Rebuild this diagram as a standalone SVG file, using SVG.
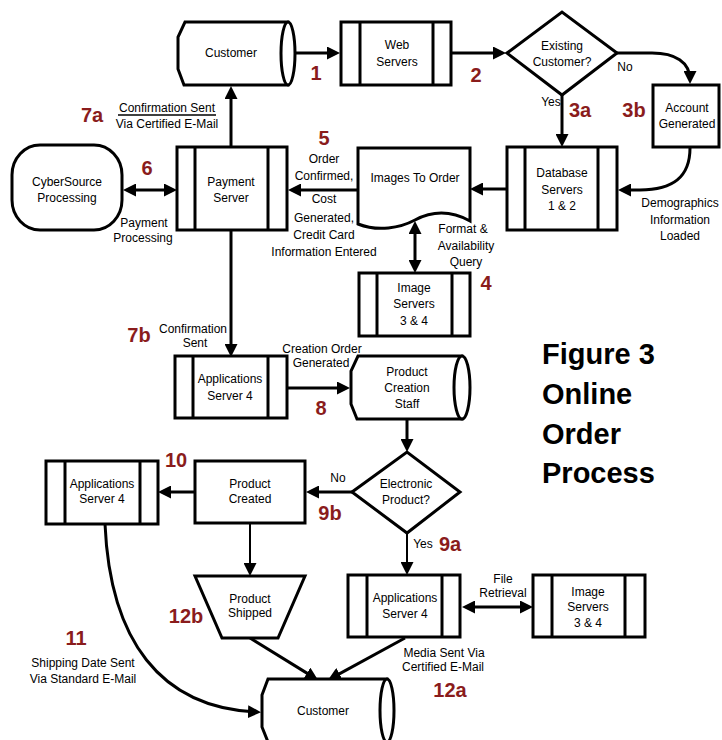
<svg xmlns="http://www.w3.org/2000/svg" width="722" height="740" viewBox="0 0 722 740">
<defs>
<style>
.box{fill:#fff;stroke:#000;stroke-width:3;stroke-linejoin:miter}
.bar{stroke:#000;stroke-width:3}
.t{font-family:"Liberation Sans",Arial,sans-serif;font-size:12px;fill:#000;text-anchor:middle}
.n{font-family:"Liberation Sans",Arial,sans-serif;font-size:20px;font-weight:bold;fill:#8a1c1c;text-anchor:middle}
.fig{font-family:"Liberation Sans",Arial,sans-serif;font-size:29px;font-weight:bold;fill:#000}
.c{fill:none;stroke:#000;stroke-width:3;marker-end:url(#ah)}
.thin{stroke-width:2}
.both{marker-start:url(#ah)}
</style>
<marker id="ah" viewBox="0 0 13 13" refX="9" refY="6.5" markerWidth="13" markerHeight="13" markerUnits="userSpaceOnUse" orient="auto-start-reverse"><path d="M0,0 L13,6.5 L0,13 Z" fill="#000"/></marker>
</defs>
<rect x="0" y="0" width="722" height="740" fill="#fff"/>

<g id="connectors">
<path class="c" d="M295,53 H336"/>
<path class="c" d="M451,53 H502"/>
<path class="c" d="M617,53 H652 C675,53 690,62 690,80"/>
<path class="c" d="M562,95 V143"/>
<path class="c" d="M690,148 C690,178 672,190 640,190 L622,190"/>
<path class="c" d="M507,189 H474"/>
<path class="c" d="M358,190 H292"/>
<path class="c both" d="M127,190 H173"/>
<path class="c" d="M231,147 V90"/>
<path class="c" d="M231,230 V353"/>
<path class="c both" d="M415,225 V269"/>
<path class="c" d="M287,388 H346"/>
<path class="c" d="M407,419 V448"/>
<path class="c" d="M352,492 H310"/>
<path class="c" d="M195,492 H162"/>
<path class="c thin" d="M250,523 V572"/>
<path class="c thin" d="M407,533 V571"/>
<path class="c both" d="M466,607 H529"/>
<path class="c" d="M250,638 L314.6,677.9"/>
<path class="c" d="M405,638 L331.5,678.1"/>
<path class="c" d="M105,524 C110,640 160,708 257,712"/>
</g>

<g id="customer-top">
<path class="box" d="M288,22 H185 L178,37 V69 L184,85 H288 Z"/>
<ellipse class="box" cx="288" cy="53.5" rx="7" ry="31.5"/>
<text class="t" x="231" y="57">Customer</text>
</g>

<g id="web-servers">
<rect class="box" x="341" y="22" width="110" height="63"/>
<line class="bar" x1="360" y1="22" x2="360" y2="85"/>
<line class="bar" x1="433" y1="22" x2="433" y2="85"/>
<text class="t" x="397" y="49">Web</text>
<text class="t" x="397" y="66">Servers</text>
</g>

<g id="existing-customer">
<polygon class="box" points="507,53 562,12 617,53 562,95"/>
<text class="t" x="562" y="50">Existing</text>
<text class="t" x="562" y="66">Customer?</text>
</g>

<g id="account-generated">
<rect class="box" x="653" y="85" width="66" height="62"/>
<text class="t" x="687" y="112">Account</text>
<text class="t" x="687" y="128">Generated</text>
</g>

<g id="database-servers">
<rect class="box" x="507" y="147" width="110" height="83"/>
<line class="bar" x1="525" y1="147" x2="525" y2="230"/>
<line class="bar" x1="598" y1="147" x2="598" y2="230"/>
<text class="t" x="562" y="177">Database</text>
<text class="t" x="562" y="194">Servers</text>
<text class="t" x="562" y="210">1 &amp; 2</text>
</g>

<g id="images-to-order">
<path class="box" d="M358,148 H470 V221 C450,210 432,211 415,220 C400,228 378,232 358,224 Z"/>
<text class="t" x="415" y="182">Images To Order</text>
</g>

<g id="image-servers-top">
<rect class="box" x="359" y="273" width="111" height="63"/>
<line class="bar" x1="377" y1="273" x2="377" y2="336"/>
<line class="bar" x1="452" y1="273" x2="452" y2="336"/>
<text class="t" x="414" y="292">Image</text>
<text class="t" x="414" y="308">Servers</text>
<text class="t" x="414" y="325">3 &amp; 4</text>
</g>

<g id="payment-server">
<rect class="box" x="177" y="147" width="110" height="83"/>
<line class="bar" x1="195" y1="147" x2="195" y2="230"/>
<line class="bar" x1="268" y1="147" x2="268" y2="230"/>
<text class="t" x="231" y="186">Payment</text>
<text class="t" x="231" y="202">Server</text>
</g>

<g id="cybersource">
<rect class="box" x="12" y="145" width="110" height="85" rx="28" ry="30"/>
<text class="t" x="67" y="186">CyberSource</text>
<text class="t" x="67" y="202">Processing</text>
</g>

<g id="applications-server-mid">
<rect class="box" x="175" y="356" width="112" height="62"/>
<line class="bar" x1="193" y1="356" x2="193" y2="418"/>
<line class="bar" x1="268" y1="356" x2="268" y2="418"/>
<text class="t" x="230" y="383">Applications</text>
<text class="t" x="230" y="400">Server 4</text>
</g>

<g id="product-creation-staff">
<path class="box" d="M462,356 H358 L351,371 V404 L357,419 H462 Z"/>
<ellipse class="box" cx="462" cy="387.5" rx="8" ry="31.5"/>
<text class="t" x="407" y="376">Product</text>
<text class="t" x="407" y="392">Creation</text>
<text class="t" x="407" y="408">Staff</text>
</g>

<g id="electronic-product">
<polygon class="box" points="352,492 407,452 460,492 407,533"/>
<text class="t" x="406" y="488">Electronic</text>
<text class="t" x="406" y="504">Product?</text>
</g>

<g id="product-created">
<rect class="box" x="195" y="461" width="110" height="62"/>
<text class="t" x="250" y="488">Product</text>
<text class="t" x="250" y="503">Created</text>
</g>

<g id="applications-server-left">
<rect class="box" x="46" y="461" width="112" height="63"/>
<line class="bar" x1="65" y1="461" x2="65" y2="524"/>
<line class="bar" x1="140" y1="461" x2="140" y2="524"/>
<text class="t" x="102" y="488">Applications</text>
<text class="t" x="102" y="503">Server 4</text>
</g>

<g id="product-shipped">
<polygon class="box" points="195,576 305,576 278,638 222,638"/>
<text class="t" x="250" y="603">Product</text>
<text class="t" x="250" y="617">Shipped</text>
</g>

<g id="applications-server-bottom">
<rect class="box" x="348" y="575" width="112" height="62"/>
<line class="bar" x1="367" y1="575" x2="367" y2="637"/>
<line class="bar" x1="442" y1="575" x2="442" y2="637"/>
<text class="t" x="405" y="602">Applications</text>
<text class="t" x="405" y="618">Server 4</text>
</g>

<g id="image-servers-bottom">
<rect class="box" x="533" y="575" width="112" height="62"/>
<line class="bar" x1="552" y1="575" x2="552" y2="637"/>
<line class="bar" x1="625" y1="575" x2="625" y2="637"/>
<text class="t" x="588" y="596">Image</text>
<text class="t" x="588" y="611">Servers</text>
<text class="t" x="588" y="627">3 &amp; 4</text>
</g>

<g id="customer-bottom">
<path class="box" d="M387,679 H268 L262,695 V727 L268,742 H387 Z"/>
<ellipse class="box" cx="387" cy="710.5" rx="7" ry="31.5"/>
<text class="t" x="323" y="715">Customer</text>
</g>

<g id="labels">
<text class="n" x="316" y="80">1</text>
<text class="n" x="476" y="82">2</text>
<text class="t" x="625" y="71">No</text>
<text class="t" x="551" y="106">Yes</text>
<text class="n" x="580" y="117">3a</text>
<text class="n" x="634" y="117">3b</text>
<text class="t" x="680" y="207">Demographics</text>
<text class="t" x="680" y="224">Information</text>
<text class="t" x="680" y="240">Loaded</text>
<text class="t" x="463" y="233">Format &amp;</text>
<text class="t" x="466" y="250">Availability</text>
<text class="t" x="466" y="266">Query</text>
<text class="n" x="486" y="290">4</text>
<text class="n" x="324" y="145">5</text>
<text class="t" x="324" y="163">Order</text>
<text class="t" x="324" y="180">Confirmed,</text>
<text class="t" x="324" y="203">Cost</text>
<text class="t" x="324" y="222">Generated,</text>
<text class="t" x="324" y="239">Credit Card</text>
<text class="t" x="324" y="256">Information Entered</text>
<text class="n" x="147" y="175">6</text>
<text class="t" x="144" y="227">Payment</text>
<text class="t" x="143" y="242">Processing</text>
<text class="n" x="92" y="122">7a</text>
<text class="t" x="167" y="112">Confirmation Sent</text>
<line x1="118" y1="115" x2="216" y2="115" stroke="#000" stroke-width="1.5"/>
<text class="t" x="167" y="128">Via Certified E-Mail</text>
<text class="n" x="139" y="342">7b</text>
<text class="t" x="193" y="333">Confirmation</text>
<text class="t" x="195" y="347">Sent</text>
<text class="t" x="322" y="353">Creation Order</text>
<text class="t" x="321" y="367">Generated</text>
<text class="n" x="321" y="415">8</text>
<text class="t" x="338" y="482">No</text>
<text class="n" x="330" y="520">9b</text>
<text class="n" x="176" y="467">10</text>
<text class="t" x="423" y="548">Yes</text>
<text class="n" x="450" y="551">9a</text>
<text class="t" x="503" y="583">File</text>
<text class="t" x="503" y="597">Retrieval</text>
<text class="n" x="186" y="623">12b</text>
<text class="n" x="76" y="645">11</text>
<text class="t" x="83" y="667">Shipping Date Sent</text>
<text class="t" x="83" y="683">Via Standard E-Mail</text>
<text class="t" x="444" y="657">Media Sent Via</text>
<text class="t" x="443" y="671">Certified E-Mail</text>
<text class="n" x="450" y="697">12a</text>
</g>

<g id="title">
<text class="fig" x="542" y="364">Figure 3</text>
<text class="fig" x="542" y="404">Online</text>
<text class="fig" x="542" y="444">Order</text>
<text class="fig" x="542" y="483">Process</text>
</g>
</svg>
